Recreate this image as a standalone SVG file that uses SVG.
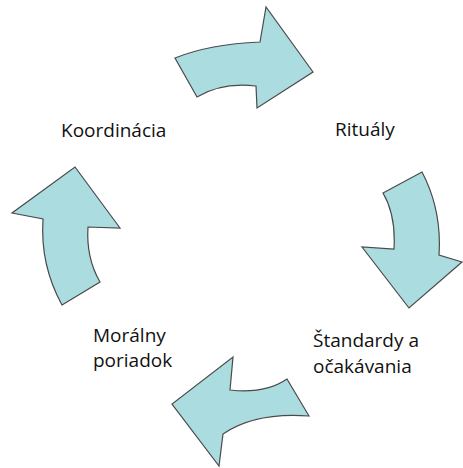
<svg xmlns="http://www.w3.org/2000/svg" width="463" height="468" viewBox="0 0 463 468">
<style>
.arr{fill:#abdde0;stroke:#4a4a4a;stroke-width:1.2;stroke-linejoin:miter}
.lbl{font-family:"Open Sans","Liberation Sans",sans-serif;font-size:19px;fill:#111}
</style>
<rect width="463" height="468" fill="#fff"/>
<g id="connectors">
<path id="arrow-top" class="arr" d="M175,58 Q210,44 260,42 L266,7 L313,72 L257,108 L256,86 Q222,82 197,97 Z"/>
<path id="arrow-right" class="arr" d="M383,193 L422,172 Q442,210 439,255 L462,262 L409,308 L362,247 L394,249 Q396,215 383,193 Z"/>
<path id="arrow-bottom" class="arr" d="M287,379 L309,416 Q255,412 223,434 L219,466 L172,404 L233,357 L230,390 Q265,394 287,379 Z"/>
<path id="arrow-left" class="arr" d="M62,305 L100,282 Q86,258 88,227 L120,228 L75,167 L12,213 L43,219 Q40,265 62,305 Z"/>
</g>
<g id="koordinacia"><text class="lbl" x="61" y="137">Koordinácia</text></g>
<g id="ritualy"><text class="lbl" x="335" y="136">Rituály</text></g>
<g id="standardy"><text class="lbl" x="313" y="347">Štandardy a</text><text class="lbl" x="313" y="373">očakávania</text></g>
<g id="moralny"><text class="lbl" x="93" y="342">Morálny</text><text class="lbl" x="93" y="367">poriadok</text></g>
</svg>
